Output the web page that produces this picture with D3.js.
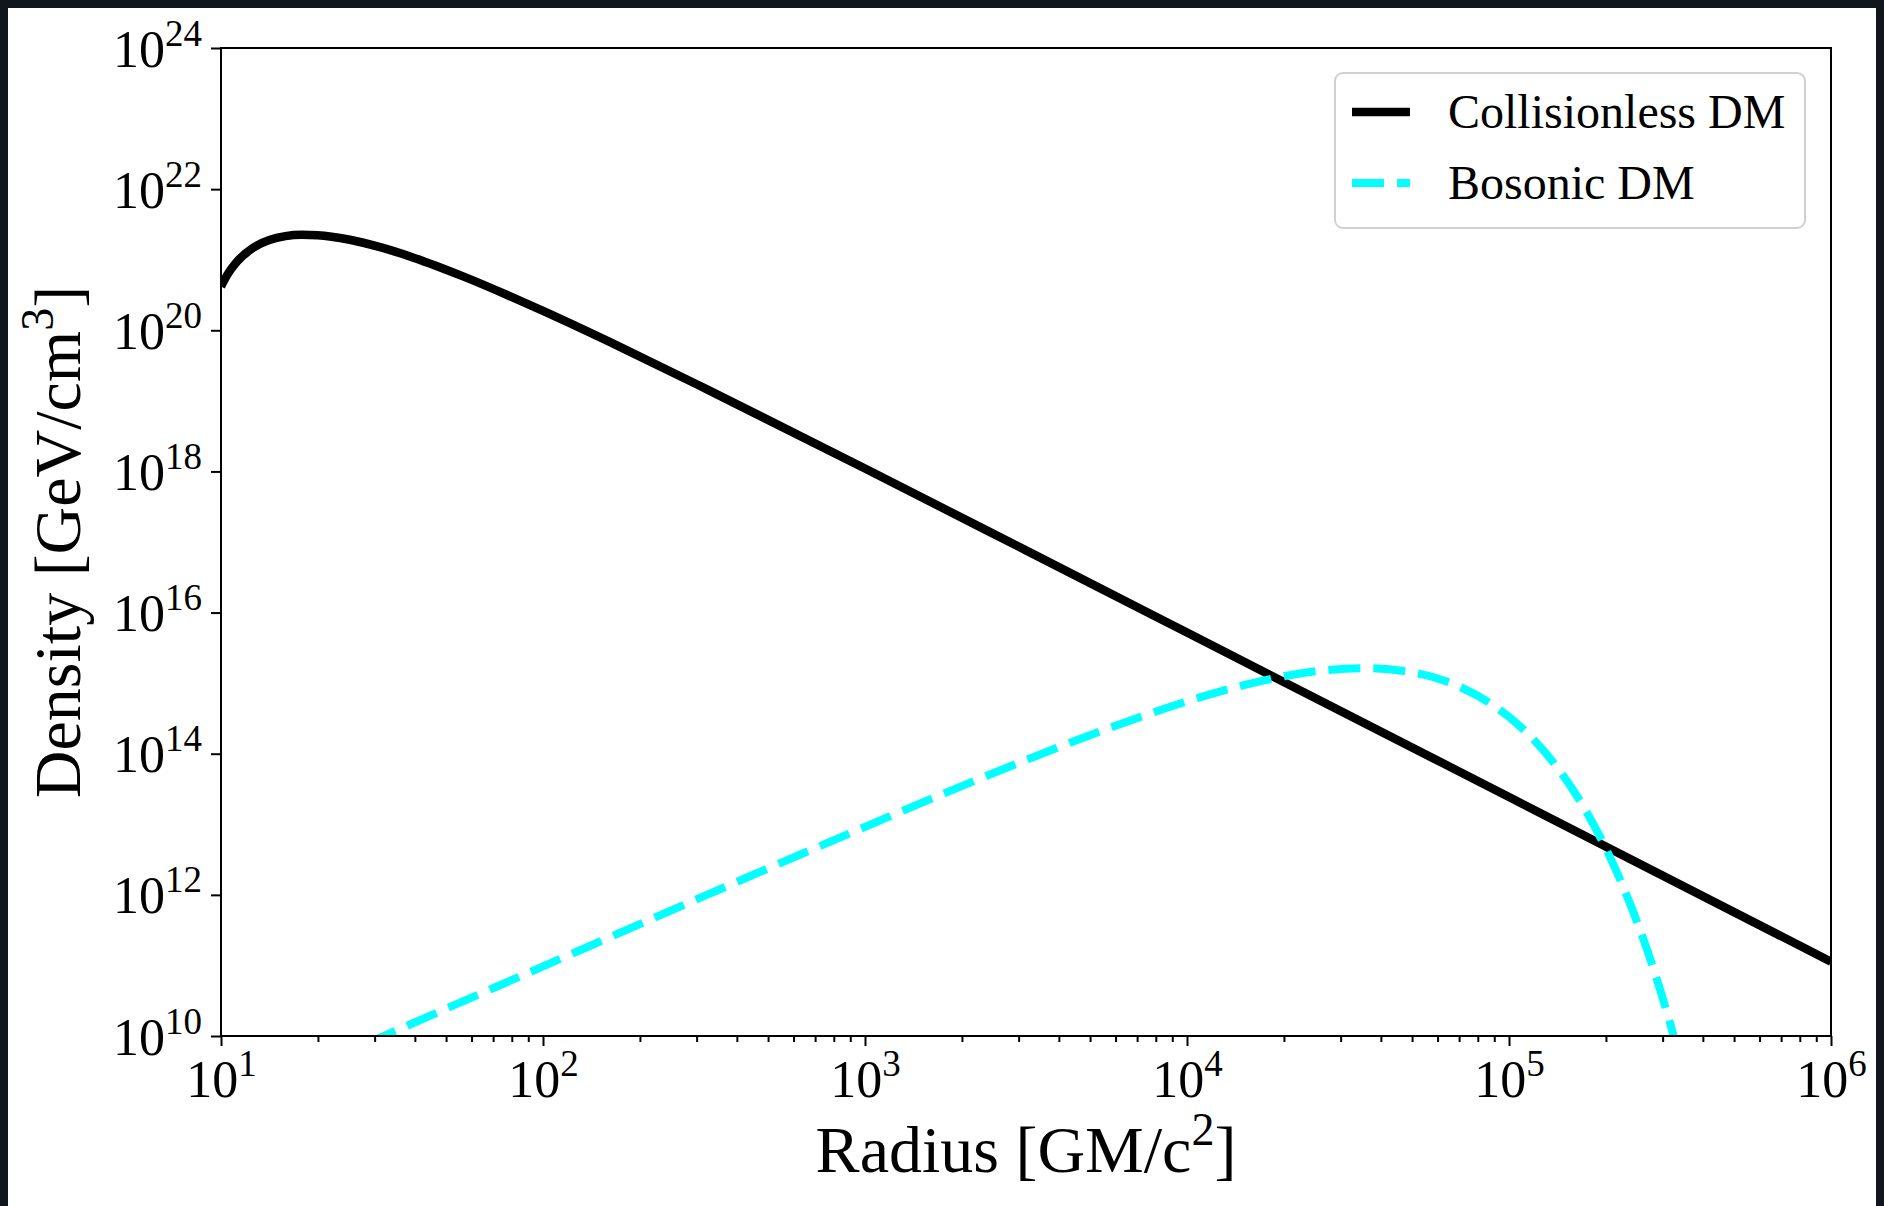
<!DOCTYPE html>
<html>
<head>
<meta charset="utf-8">
<script src="https://cdn.jsdelivr.net/npm/d3@7"></script>
<style>
  html, body { margin: 0; padding: 0; background: #ffffff; }
  svg { display: block; }
  text { font-family: "Liberation Serif", "DejaVu Serif", serif; fill: #000; }
</style>
</head>
<body>
<svg id="chart" width="1884" height="1206"></svg>
<script>
// ---------------- data ----------------
const collisionlessR = [10, 10.47, 11.22, 12.59, 14.13, 15.85, 17.78, 19.95, 25.12, 31.62, 39.81, 56.23, 100, 177.8, 316.2, 1000, 3162, 1e4, 1e5, 1e6];
const collisionlessRho = [4.17e20, 6.15e20, 9.42e20, 1.476e21, 1.90e21, 2.16e21, 2.26e21, 2.23e21, 1.92e21, 1.48e21, 1.06e21, 5.85e20, 1.88e20, 5.51e19, 1.53e19, 1.10e18, 7.60e16, 5.21e15, 2.43e13, 1.13e11];

const bosonicR = [28.2, 31.6, 100, 316, 1000, 1778, 3162, 5623, 1e4, 15849, 25119, 35481, 50119, 70795, 89125, 1e5, 112202, 125893, 141254, 158489, 177828, 199526, 223872, 251189, 281838, 316228, 338844];
const bosonicRho = [7.73e9, 9.72e9, 9.68e10, 9.57e11, 9.20e12, 2.79e13, 8.15e13, 2.24e14, 5.52e14, 9.95e14, 1.476e15, 1.63e15, 1.42e15, 8.75e14, 4.89e14, 3.32e14, 2.09e14, 1.21e14, 6.35e13, 3.01e13, 1.26e13, 4.62e12, 1.46e12, 3.89e11, 8.59e10, 1.53e10, 4.86e9];

const seriesNames = ["Collisionless DM", "Bosonic DM"];
const xTickExps = [1, 2, 3, 4, 5, 6];
const yTickExps = [10, 12, 14, 16, 18, 20, 22, 24];
const xLabelMain = "Radius [GM/c";
const xLabelSup = "2";
const xLabelEnd = "]";
const yLabelMain = "Density [GeV/cm";
const yLabelSup = "3";
const yLabelEnd = "]";

// ---------------- layout ----------------
const W = 1884, H = 1206;
const L = 221, R = 1831, T = 48, B = 1036;

const svg = d3.select("#chart");

// dark page frame seen in the reference
svg.append("rect").attr("x", 0).attr("y", 0).attr("width", W).attr("height", H).attr("fill", "#11161c");
svg.append("rect").attr("x", 8).attr("y", 8).attr("width", W - 16).attr("height", H - 8).attr("fill", "#ffffff");

const x = d3.scaleLog().domain([10, 1e6]).range([L, R]);
const y = d3.scaleLog().domain([1e10, 1e24]).range([B, T]);

svg.append("defs").append("clipPath").attr("id", "plotclip")
  .append("rect").attr("x", L).attr("y", T).attr("width", R - L).attr("height", B - T);

// minor x ticks
const minorX = [];
for (let e = 1; e < 6; e++) for (let m = 2; m <= 9; m++) minorX.push(m * Math.pow(10, e));

const xMinorAxis = d3.axisBottom(x).tickValues(minorX).tickSize(6).tickSizeOuter(0).tickFormat("");
const gxm = svg.append("g").attr("transform", `translate(0,${B})`).call(xMinorAxis);
gxm.select(".domain").remove();
gxm.selectAll(".tick line").attr("stroke", "#000").attr("stroke-width", 2);

const xAxis = d3.axisBottom(x).tickValues(xTickExps.map(e => Math.pow(10, e))).tickSize(10).tickSizeOuter(0).tickFormat("");
const gx = svg.append("g").attr("transform", `translate(0,${B})`).call(xAxis);
gx.select(".domain").remove();
gx.selectAll(".tick line").attr("stroke", "#000").attr("stroke-width", 2);
gx.selectAll(".tick").append("text")
  .attr("y", 61).attr("text-anchor", "middle").attr("font-size", 52)
  .each(function(d) {
    const t = d3.select(this);
    t.append("tspan").text("10");
    t.append("tspan").attr("dy", -21).attr("font-size", 37).text(Math.round(Math.log10(d)));
  });

const yAxis = d3.axisLeft(y).tickValues(yTickExps.map(e => Math.pow(10, e))).tickSize(10).tickSizeOuter(0).tickFormat("");
const gy = svg.append("g").attr("transform", `translate(${L},0)`).call(yAxis);
gy.select(".domain").remove();
gy.selectAll(".tick line").attr("stroke", "#000").attr("stroke-width", 2);
gy.selectAll(".tick").append("text")
  .attr("x", -19).attr("y", 18).attr("text-anchor", "end").attr("font-size", 52)
  .each(function(d) {
    const t = d3.select(this);
    t.append("tspan").text("10");
    t.append("tspan").attr("dy", -21).attr("font-size", 37).text(Math.round(Math.log10(d)));
  });

// lines
const line = d3.line().x(d => x(d[0])).y(d => y(d[1])).curve(d3.curveMonotoneX);
const plot = svg.append("g").attr("clip-path", "url(#plotclip)");

plot.append("path")
  .datum(collisionlessR.map((r, i) => [r, collisionlessRho[i]]))
  .attr("d", line).attr("fill", "none").attr("stroke", "#000000")
  .attr("stroke-width", 8.5).attr("stroke-linejoin", "round");

plot.append("path")
  .datum(bosonicR.map((r, i) => [r, bosonicRho[i]]))
  .attr("d", line).attr("fill", "none").attr("stroke", "#00ffff")
  .attr("stroke-width", 8).attr("stroke-dasharray", "32,13");

// frame
svg.append("rect").attr("x", L).attr("y", T).attr("width", R - L).attr("height", B - T)
  .attr("fill", "none").attr("stroke", "#000").attr("stroke-width", 2);

// axis titles
const xt = svg.append("text").attr("x", (L + R) / 2).attr("y", 1172)
  .attr("text-anchor", "middle").attr("font-size", 66);
xt.append("tspan").text(xLabelMain);
xt.append("tspan").attr("dy", -27).attr("font-size", 46).text(xLabelSup);
xt.append("tspan").attr("dy", 27).text(xLabelEnd);

const yt = svg.append("text").attr("transform", `translate(80,${(T + B) / 2}) rotate(-90)`)
  .attr("text-anchor", "middle").attr("font-size", 66);
yt.append("tspan").text(yLabelMain);
yt.append("tspan").attr("dy", -27).attr("font-size", 46).text(yLabelSup);
yt.append("tspan").attr("dy", 27).text(yLabelEnd);

// legend
const lg = svg.append("g");
lg.append("rect").attr("x", 1335).attr("y", 73).attr("width", 470).attr("height", 155)
  .attr("rx", 8).attr("fill", "#ffffff").attr("fill-opacity", 0.8)
  .attr("stroke", "#d0d0d0").attr("stroke-width", 2);
const legendStyles = [
  { stroke: "#000000", dash: null, width: 8.5 },
  { stroke: "#00ffff", dash: "32,13", width: 8 }
];
seriesNames.forEach((name, i) => {
  const cy = 112 + i * 71;
  const ln = lg.append("line").attr("x1", 1352).attr("x2", 1410).attr("y1", cy).attr("y2", cy)
    .attr("stroke", legendStyles[i].stroke).attr("stroke-width", legendStyles[i].width);
  if (legendStyles[i].dash) ln.attr("stroke-dasharray", legendStyles[i].dash);
  lg.append("text").attr("x", 1448).attr("y", cy + 16).attr("font-size", 48).text(name);
});
</script>
</body>
</html>
